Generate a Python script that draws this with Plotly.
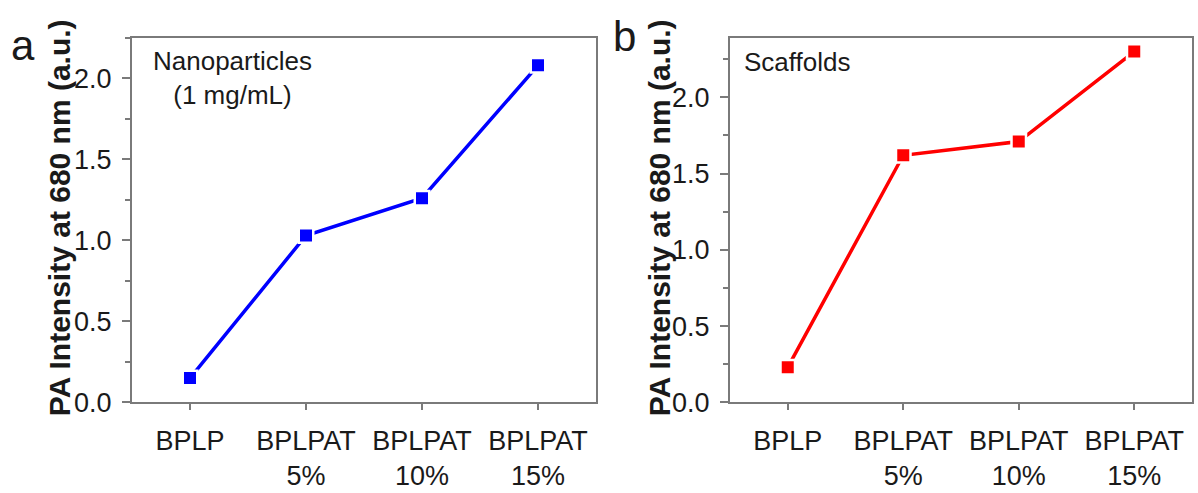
import plotly.graph_objects as go

categories = ["BPLP", "BPLPAT<br>5%", "BPLPAT<br>10%", "BPLPAT<br>15%"]
nanoparticles = [0.15, 1.03, 1.26, 2.08]
scaffolds = [0.23, 1.62, 1.71, 2.30]
y_title = "PA Intensity at 680 nm (a.u.)"

W, H = 1198, 493
FONT = "Liberation Sans, Arial, sans-serif"
TXT = "#1a1a1a"
AX = "#7a7a7a"

def px(x):
    return x / W

def py(y):
    return 1 - y / H

fig = go.Figure()

fig.add_trace(go.Scatter(
    x=categories, y=nanoparticles, mode="lines+markers",
    line=dict(color="#0000ff", width=3.5),
    marker=dict(symbol="square", size=14.5, color="#0000ff",
                line=dict(color="white", width=2.5)),
    xaxis="x", yaxis="y", showlegend=False, cliponaxis=False))

fig.add_trace(go.Scatter(
    x=categories, y=scaffolds, mode="lines+markers",
    line=dict(color="#ff0000", width=3.5),
    marker=dict(symbol="square", size=14.5, color="#ff0000",
                line=dict(color="white", width=2.5)),
    xaxis="x2", yaxis="y2", showlegend=False, cliponaxis=False))

xcommon = dict(type="category", range=[-0.5, 3.5], showline=True, mirror=True,
               linecolor=AX, linewidth=2, ticks="outside", ticklen=6,
               tickwidth=2, tickcolor=AX, showgrid=False, zeroline=False,
               ticklabelstandoff=7,
               tickfont=dict(family=FONT, size=27, color=TXT))
ycommon = dict(showline=True, mirror=True, linecolor=AX, linewidth=2,
               ticks="outside", ticklen=8, tickwidth=2, tickcolor=AX,
               showgrid=False, zeroline=False, dtick=0.5, tick0=0,
               tickformat=".1f", ticklabelstandoff=5,
               tickfont=dict(family=FONT, size=27, color=TXT),
               minor=dict(dtick=0.25, tick0=0, ticks="outside", ticklen=5,
                          tickwidth=2, tickcolor=AX, showgrid=False))

yd = [py(415), py(39)]

fig.update_layout(
    width=W, height=H, margin=dict(l=0, r=0, t=0, b=0),
    paper_bgcolor="white", plot_bgcolor="white",
    xaxis=dict(domain=[px(132), px(596)], anchor="y", **xcommon),
    yaxis=dict(domain=yd, anchor="x", range=[0, 2.25], **ycommon),
    xaxis2=dict(domain=[px(730), px(1192)], anchor="y2", **xcommon),
    yaxis2=dict(domain=yd, anchor="x2", range=[0, 2.39], **ycommon),
)

annotations = [
    dict(text="<b>" + y_title + "</b>", x=px(59), y=py(225), textangle=-90,
         font=dict(size=30, family=FONT, color=TXT)),
    dict(text="<b>" + y_title + "</b>", x=px(659), y=py(225), textangle=-90,
         font=dict(size=30, family=FONT, color=TXT)),
    dict(text="a", x=px(23), y=py(47), font=dict(size=42, family=FONT, color=TXT)),
    dict(text="b", x=px(624), y=py(38), font=dict(size=42, family=FONT, color=TXT)),
    dict(text="Nanoparticles<br>(1 mg/mL)", x=px(232), y=py(80),
         font=dict(size=26, family=FONT, color=TXT)),
    dict(text="Scaffolds", x=px(742), y=py(64), xanchor="left",
         font=dict(size=26, family=FONT, color=TXT)),
]
for a in annotations:
    a.setdefault("xanchor", "center")
    a.setdefault("yanchor", "middle")
    fig.add_annotation(xref="paper", yref="paper", showarrow=False, **a)

fig.write_html("out.html")
